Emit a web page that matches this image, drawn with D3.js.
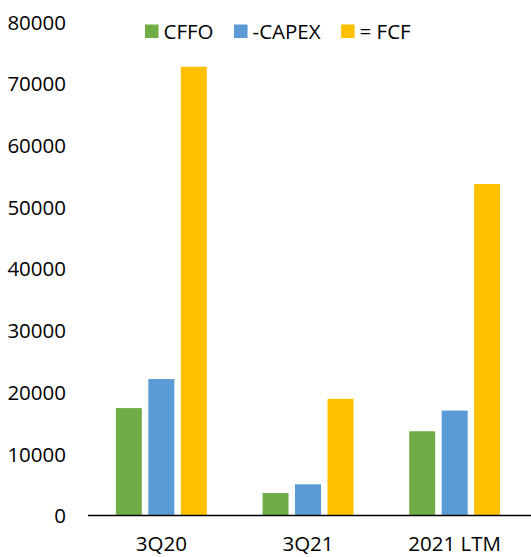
<!DOCTYPE html>
<html>
<head>
<meta charset="utf-8">
<script src="https://cdn.jsdelivr.net/npm/d3@7"></script>
<style>
  html, body { margin: 0; padding: 0; background: #fff; }
  svg { display: block; }
  text { font-family: "Open Sans", sans-serif; fill: #000; }
</style>
</head>
<body>
<svg id="chart" width="531" height="557"></svg>
<script>
const categories = ["3Q20", "3Q21", "2021 LTM"];
const seriesNames = ["CFFO", "-CAPEX", "= FCF"];
const cffo  = [17400, 3650, 13650];
const capex = [22100, 5050, 17000];
const fcf   = [72700, 18900, 53700];
const yTicks = [0, 10000, 20000, 30000, 40000, 50000, 60000, 70000, 80000];
const colors = ["#70AD47", "#5B9BD5", "#FFC000"];

const seriesValues = [cffo, capex, fcf];
const svg = d3.select("#chart");
const fontSize = 20.5;

const x0 = d3.scaleBand().domain(categories).range([88, 528]).paddingInner(0.38).paddingOuter(0.19);
const x1 = d3.scaleBand().domain(seriesNames).range([0, x0.bandwidth()]).paddingInner(0.2).paddingOuter(0);
const y = d3.scaleLinear().domain([0, 80000]).range([515.5, 21.7]);

// y tick labels
const yAxis = d3.axisLeft(y).tickValues(yTicks).tickSize(0).tickPadding(0).tickFormat(d3.format("d"));
const yg = svg.append("g").attr("transform", "translate(66,0)").call(yAxis);
yg.select(".domain").remove();
yg.selectAll("text").attr("font-size", fontSize).attr("font-family", "Open Sans").attr("fill", "#000").attr("dy", "0.36em");

// bars
const groups = svg.append("g").selectAll("g").data(categories).join("g")
  .attr("transform", d => `translate(${x0(d)},0)`);
groups.selectAll("rect")
  .data((c, i) => seriesNames.map((s, j) => ({ s, v: seriesValues[j][i], j })))
  .join("rect")
  .attr("x", d => x1(d.s))
  .attr("width", x1.bandwidth())
  .attr("y", d => y(d.v))
  .attr("height", d => y(0) - y(d.v))
  .attr("fill", d => colors[d.j]);

// x axis
const xAxis = d3.axisBottom(x0).tickSize(0).tickPadding(0);
const xg = svg.append("g").attr("transform", `translate(0,${y(0)})`).call(xAxis);
xg.select(".domain").remove();
svg.append("line").attr("x1", 88).attr("x2", 531).attr("y1", y(0)).attr("y2", y(0))
  .attr("stroke", "#000").attr("stroke-width", 1.5);
xg.selectAll("text").attr("font-size", fontSize).attr("font-family", "Open Sans").attr("fill", "#000")
  .attr("dy", null).attr("y", 551 - y(0));

// legend
const legend = svg.append("g");
let lx = 145;
seriesNames.forEach((name, i) => {
  legend.append("rect").attr("x", lx).attr("y", 24.5).attr("width", 13.5).attr("height", 13.5).attr("fill", colors[i]);
  const t = legend.append("text").attr("x", lx + 18.5).attr("y", 38.6).attr("font-size", fontSize).text(name);
  lx += 18.5 + t.node().getComputedTextLength() + 20.5;
});
</script>
</body>
</html>
